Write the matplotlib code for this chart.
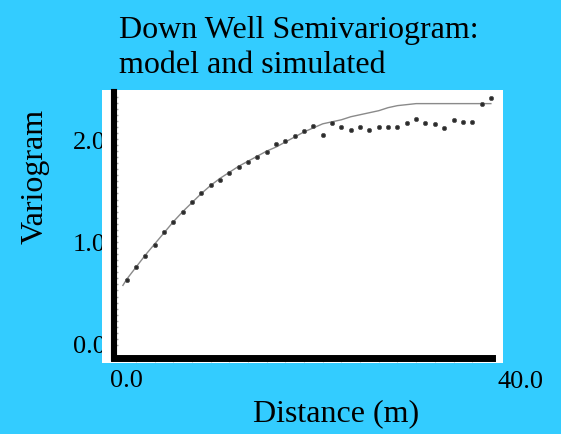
import matplotlib
matplotlib.use("Agg")
import matplotlib.pyplot as plt
from matplotlib.patches import Rectangle
import numpy as np

# Experimental (simulated) semivariogram, one value per 1 m lag
lag = list(range(1, 41))
simulated = [0.64, 0.77, 0.88, 0.99, 1.12, 1.22, 1.32, 1.42, 1.50, 1.58,
             1.63, 1.70, 1.76, 1.81, 1.86, 1.91, 1.99, 2.02, 2.07, 2.12,
             2.17, 2.08, 2.20, 2.16, 2.13, 2.16, 2.13, 2.16, 2.16, 2.16,
             2.20, 2.24, 2.20, 2.19, 2.15, 2.23, 2.21, 2.21, 2.39, 2.45]

# Fitted model curve
model_lag = [0.6] + list(range(1, 41))
model = [0.59, 0.65, 0.77, 0.89, 1.00, 1.11, 1.22, 1.32, 1.41, 1.50, 1.58,
         1.65, 1.71, 1.77, 1.82, 1.87, 1.92, 1.96, 2.01, 2.06, 2.11,
         2.15, 2.19, 2.21, 2.23, 2.26, 2.28, 2.30, 2.32, 2.35, 2.37,
         2.38, 2.39, 2.39, 2.39, 2.39, 2.39, 2.39, 2.39, 2.39, 2.39]

y_tick_labels = ["2.0", "1.0", "0.0"]
y_tick_values = [2.0, 1.0, 0.0]
x_tick_labels = ["0.0", "40.0"]

W, H = 561, 434
SERIF = ["Liberation Serif", "DejaVu Serif"]

fig = plt.figure(figsize=(W / 100, H / 100), dpi=100)
fig.patch.set_facecolor("#33CCFF")

def fx(px):
    return px / W

def fy(py):
    return 1 - py / H

# white plotting panel
fig.patches.append(Rectangle((fx(102), fy(363)), fx(503) - fx(102), fy(90) - fy(363),
                             transform=fig.transFigure, facecolor="white",
                             edgecolor="none", zorder=-0.5))

ax = fig.add_axes([fx(114), fy(357.5), fx(491.7) - fx(114), fy(92) - fy(357.5)])
ax.set_facecolor("none")
ax.set_xlim(-0.353, 40.09)
ax.set_ylim(-0.124, 2.505)

ax.plot(model_lag, model, color="#8a8a8a", lw=1.0, zorder=2)
ax.plot(lag, simulated, ls="none", marker="o", ms=3.0, color="#2a2a2a",
        mec="#555555", mew=0.6, clip_on=False, zorder=3)

for s in ("top", "right"):
    ax.spines[s].set_visible(False)
ax.spines["left"].set_linewidth(4.4)
ax.spines["bottom"].set_linewidth(5.0)
ax.spines["left"].set_color("black")
ax.spines["bottom"].set_color("black")

ax.set_xticks([])
ax.set_yticks([])
ax.set_xticks(np.arange(2, 40, 2), minor=True)
ax.set_yticks(np.arange(0, 2.5, 0.06), minor=True)
ax.tick_params(axis="x", which="minor", direction="out", length=3, width=0.8,
               color="#c0c0c0", labelbottom=False)
ax.tick_params(axis="y", which="minor", direction="in", length=3, width=1.0,
               color="#a8a8a8", labelleft=False)

# y tick labels, partly tucked under the white panel
for lab, v in zip(y_tick_labels, y_tick_values):
    py = 347 - 102 * v
    fig.text(fx(73), fy(py), lab, ha="left", va="center", fontsize=19,
             family=SERIF, zorder=-1)

fig.text(fx(126), fy(381), x_tick_labels[0], ha="center", va="center",
         fontsize=19, family=SERIF)
fig.text(fx(520), fy(382), x_tick_labels[1], ha="center", va="center",
         fontsize=19, family=SERIF)

fig.text(fx(119), fy(38), "Down Well Semivariogram:", ha="left", va="baseline",
         fontsize=23, family=SERIF)
fig.text(fx(119), fy(73), "model and simulated", ha="left", va="baseline",
         fontsize=23, family=SERIF)

fig.text(fx(35), fy(176), "Variogram", rotation=90, ha="center", va="center",
         fontsize=23, family=SERIF)
fig.text(fx(336), fy(414), "Distance (m)", ha="center", va="center",
         fontsize=23, family=SERIF)

fig.savefig("out.png", dpi=100, facecolor=fig.get_facecolor())
